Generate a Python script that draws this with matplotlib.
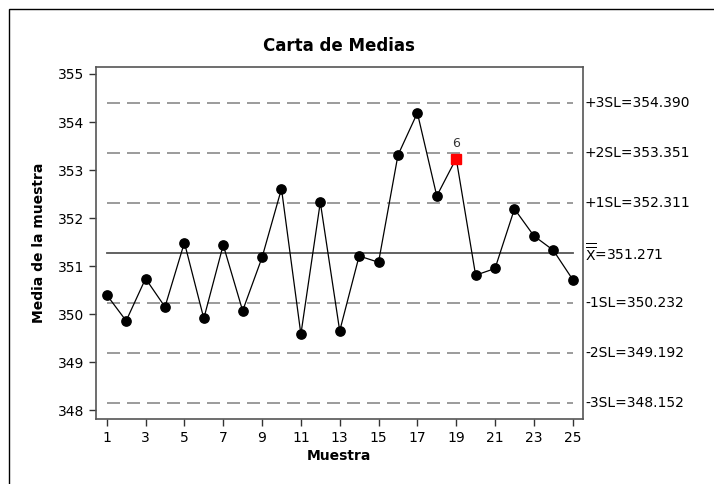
import numpy as np
import matplotlib
matplotlib.use("Agg")
import matplotlib.pyplot as plt
from matplotlib.patches import Rectangle

plt.rcParams["font.family"] = ["DejaVu Sans"]

muestra = np.arange(1, 26)
medias = [350.40, 349.86, 350.74, 350.15, 351.49, 349.91, 351.44, 350.07, 351.18,
          352.61, 349.58, 352.33, 349.65, 351.21, 351.08, 353.31, 354.19, 352.46,
          353.24, 350.81, 350.95, 352.19, 351.63, 351.33, 350.72]
centro = 351.271
limites = [354.390, 353.351, 352.311, 350.232, 349.192, 348.152]
etiquetas = ["+3SL=354.390", "+2SL=353.351", "+1SL=352.311",
             "-1SL=350.232", "-2SL=349.192", "-3SL=348.152"]
fuera = [19]          # muestras que fallan la prueba 6
prueba = "6"

fig = plt.figure(figsize=(7.14, 4.84), dpi=100)
ax = fig.add_axes([0.134, 0.1337, 0.6825, 0.7273])

# marco exterior de la figura
fig.patches.append(Rectangle((9 / 714, -0.1), 1.0, 1.1 - 9 / 484, transform=fig.transFigure,
                             fill=False, edgecolor="black", linewidth=1.0))

for lim, txt in zip(limites, etiquetas):
    ax.plot([muestra[0], muestra[-1]], [lim, lim], color="#8a8a8a", lw=1.2,
            linestyle=(0, (7.8, 4.2)), zorder=1)
    ax.text(1.004, lim, txt, transform=ax.get_yaxis_transform(), fontsize=10,
            va="center", ha="left", color="black")

ax.plot([muestra[0], muestra[-1]], [centro, centro], color="#555555", lw=1.3, zorder=1)
ax.text(1.004, centro, r"$\overline{\overline{\mathrm{X}}}$=%.3f" % centro,
        transform=ax.get_yaxis_transform(), fontsize=10, va="center", ha="left")

ax.plot(muestra, medias, color="black", lw=0.9, marker="o", ms=6.7, zorder=3)
for m in fuera:
    ax.plot(m, medias[m - 1], marker="s", ms=6.5, color="#ff0000", ls="none", zorder=4)
    ax.annotate(prueba, (m, medias[m - 1]), xytext=(0, 6), textcoords="offset points",
                ha="center", va="bottom", fontsize=9, color="#333333")

ax.set_xlim(0.43, 25.53)
ax.set_ylim(347.81, 355.14)
ax.set_xticks(muestra[::2])
ax.set_yticks(np.arange(348, 356))
ax.tick_params(direction="out", length=5, width=1, labelsize=10, color="#333333")

for s in ax.spines.values():
    s.set_color("#555555")
    s.set_linewidth(1.2)

ax.set_title("Carta de Medias", fontsize=12, fontweight="bold", pad=12)
ax.set_xlabel("Muestra", fontsize=10, fontweight="bold", labelpad=3)
ax.set_ylabel("Media de la muestra", fontsize=10, fontweight="bold", labelpad=8)

fig.savefig("out.png", dpi=100)
